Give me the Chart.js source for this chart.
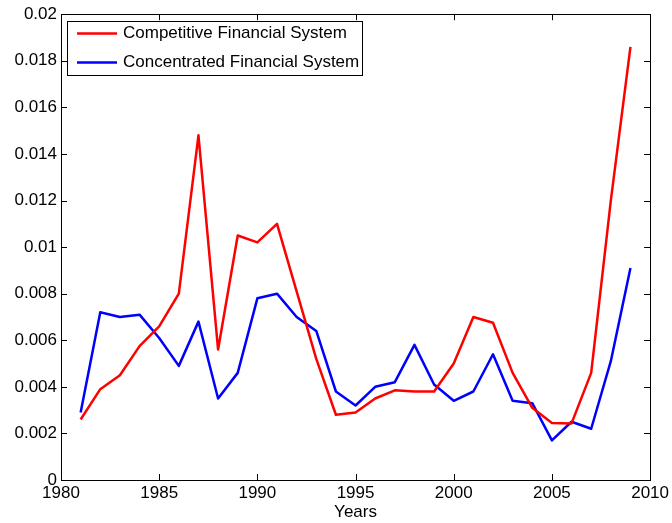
<!DOCTYPE html>
<html>
<head>
<script src="https://cdn.jsdelivr.net/npm/chart.js@4.4.1/dist/chart.umd.min.js"></script>
<style>
  html, body { margin: 0; padding: 0; background: #fff; }
</style>
</head>
<body>
<canvas id="myChart" width="672" height="523"></canvas>
<script>
const years = [1981, 1982, 1983, 1984, 1985, 1986, 1987, 1988, 1989, 1990,
               1991, 1992, 1993, 1994, 1995, 1996, 1997, 1998, 1999, 2000,
               2001, 2002, 2003, 2004, 2005, 2006, 2007, 2008, 2009];
const competitive = [0.0026, 0.0039, 0.0045, 0.00575, 0.0066, 0.0080, 0.0148, 0.0056, 0.0105, 0.0102,
                     0.0110, 0.0081, 0.0052, 0.0028, 0.0029, 0.0035, 0.00385, 0.0038, 0.0038, 0.0050,
                     0.0070, 0.00675, 0.0046, 0.0031, 0.00245, 0.00243, 0.0046, 0.0120, 0.0186];
const concentrated = [0.0029, 0.0072, 0.0070, 0.0071, 0.0061, 0.0049, 0.0068, 0.0035, 0.0046, 0.0078,
                      0.0080, 0.0070, 0.0064, 0.0038, 0.0032, 0.0040, 0.0042, 0.0058, 0.0041, 0.0034,
                      0.0038, 0.0054, 0.0034, 0.0033, 0.0017, 0.0025, 0.0022, 0.0051, 0.0091];
const seriesNames = ['Competitive Financial System', 'Concentrated Financial System'];
const xTicks = [1980, 1985, 1990, 1995, 2000, 2005, 2010];
const yTicks = [0, 0.002, 0.004, 0.006, 0.008, 0.01, 0.012, 0.014, 0.016, 0.018, 0.02];

const FONT = 'Liberation Sans, Arial, Helvetica, sans-serif';
const FS = 17;

// matlab style box with inward ticks on all four sides
const boxPlugin = {
  id: 'box',
  afterDatasetsDraw(chart) {
    const { ctx, chartArea: a, scales } = chart;
    const len = 6;
    ctx.save();
    ctx.strokeStyle = '#000';
    ctx.lineWidth = 1;
    ctx.beginPath();
    xTicks.forEach(v => {
      const x = Math.round(scales.x.getPixelForValue(v)) + 0.5;
      ctx.moveTo(x, a.bottom); ctx.lineTo(x, a.bottom - len);
      ctx.moveTo(x, a.top); ctx.lineTo(x, a.top + len);
    });
    yTicks.forEach(v => {
      const y = Math.round(scales.y.getPixelForValue(v)) + 0.5;
      ctx.moveTo(a.left, y); ctx.lineTo(a.left + len, y);
      ctx.moveTo(a.right, y); ctx.lineTo(a.right - len, y);
    });
    ctx.stroke();
    ctx.strokeRect(Math.round(a.left) + 0.5, Math.round(a.top) + 0.5,
                   Math.round(a.right - a.left), Math.round(a.bottom - a.top));

    // legend inside the axes, top left
    const lx = 67.5, ly = 21.5, lw = 295, lh = 54;
    ctx.fillStyle = '#fff';
    ctx.fillRect(lx, ly, lw, lh);
    ctx.strokeRect(lx, ly, lw, lh);
    ctx.font = FS + 'px ' + FONT;
    ctx.textBaseline = 'middle';
    chart.data.datasets.forEach((ds, i) => {
      const y = ly + 12 + i * 29;
      ctx.strokeStyle = ds.borderColor;
      ctx.lineWidth = 2.5;
      ctx.beginPath();
      ctx.moveTo(77, y); ctx.lineTo(117, y);
      ctx.stroke();
      ctx.fillStyle = '#000';
      ctx.fillText(ds.label, 123, y);
    });
    ctx.restore();
  }
};

const ctx = document.getElementById('myChart').getContext('2d');
new Chart(ctx, {
  type: 'line',
  data: {
    datasets: [
      { label: seriesNames[0], data: years.map((y, i) => ({ x: y, y: competitive[i] })),
        borderColor: '#ff0000', borderWidth: 2.5, borderJoinStyle: 'round',
        pointRadius: 0, tension: 0, fill: false },
      { label: seriesNames[1], data: years.map((y, i) => ({ x: y, y: concentrated[i] })),
        borderColor: '#0000ff', borderWidth: 2.5, borderJoinStyle: 'round',
        pointRadius: 0, tension: 0, fill: false }
    ]
  },
  options: {
    responsive: false,
    animation: false,
    layout: { padding: { top: 14, right: 19, left: 0, bottom: 0 } },
    plugins: { legend: { display: false }, tooltip: { enabled: false } },
    scales: {
      x: {
        type: 'linear', min: 1980, max: 2010,
        afterBuildTicks: s => { s.ticks = xTicks.map(v => ({ value: v })); },
        afterFit: s => { s.height = 43; },
        grid: { display: false, drawTicks: false },
        border: { display: false },
        ticks: { color: '#000', font: { family: FONT, size: FS }, padding: 3, maxRotation: 0,
                 callback: v => String(v) },
        title: { display: true, text: 'Years', color: '#000', font: { family: FONT, size: FS },
                 padding: { top: 0, bottom: 0 } }
      },
      y: {
        min: 0, max: 0.02,
        afterBuildTicks: s => { s.ticks = yTicks.map(v => ({ value: v })); },
        afterFit: s => { s.width = 61; },
        grid: { display: false, drawTicks: false },
        border: { display: false },
        ticks: { color: '#000', font: { family: FONT, size: FS }, padding: 4,
                 callback: v => String(+v.toFixed(4)) }
      }
    }
  },
  plugins: [boxPlugin]
});
</script>
</body>
</html>
